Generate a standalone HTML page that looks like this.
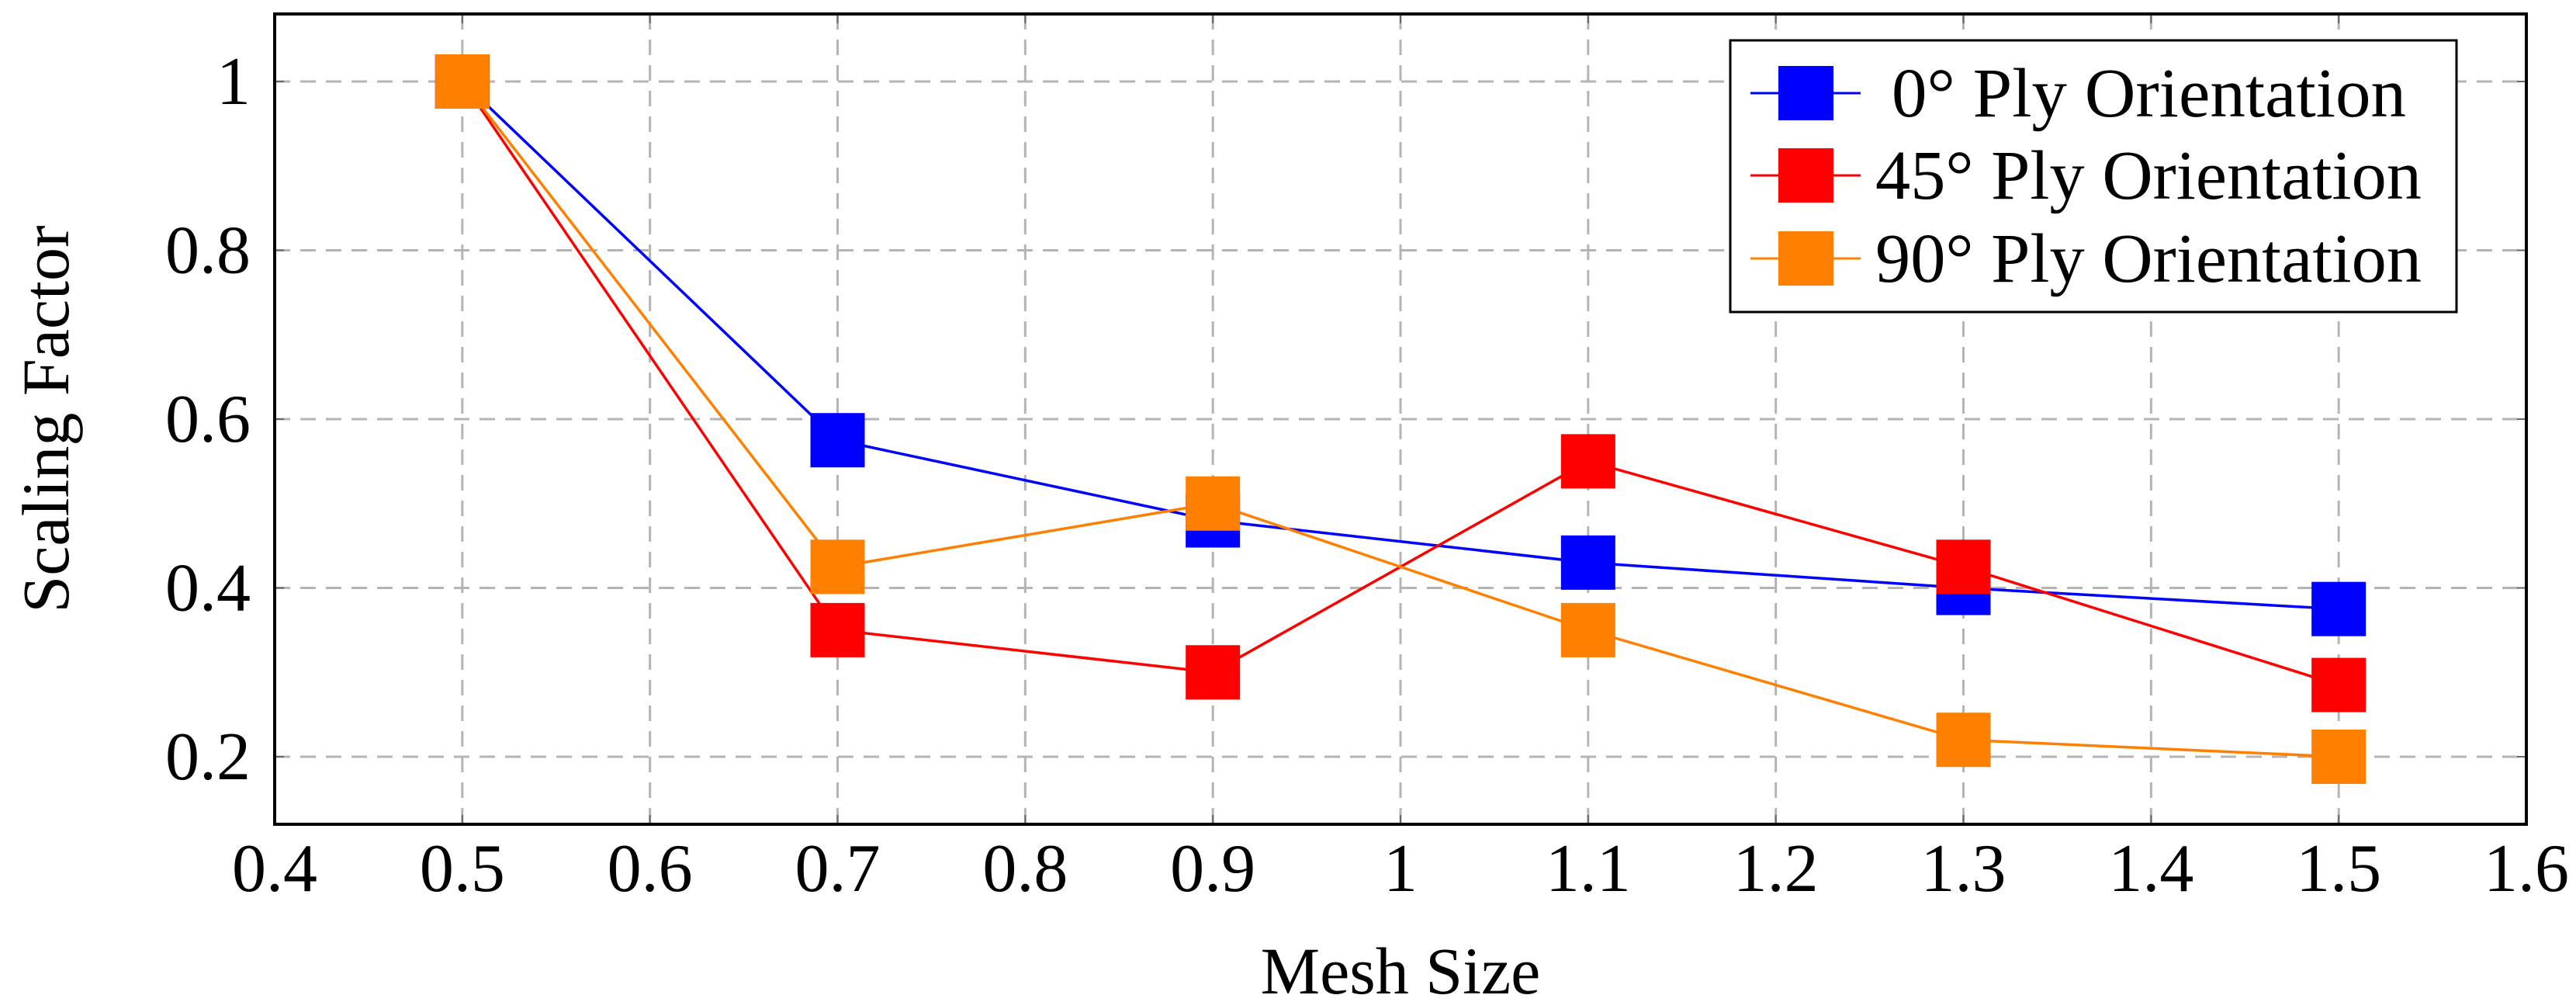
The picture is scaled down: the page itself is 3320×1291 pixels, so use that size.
<!DOCTYPE html>
<html><head><meta charset="utf-8"><style>
html,body{margin:0;padding:0;background:#fff;}
svg{display:block;}
text{font-family:"Liberation Serif",serif;fill:#000;}
</style></head><body>
<svg id="chart" width="3320" height="1291" viewBox="0 0 3320 1291" xmlns="http://www.w3.org/2000/svg">
<g id="grid"></g>
<g id="series"></g>
<rect x="354" y="18" width="2902" height="1044" fill="none" stroke="#000" stroke-width="4"/>
<g id="ticks"></g>
<text x="1805" y="1280" font-size="86" text-anchor="middle" font-family="Liberation Serif, serif">Mesh Size</text>
<text x="0" y="0" font-size="86" text-anchor="middle" font-family="Liberation Serif, serif" transform="translate(88,540) rotate(-90)">Scaling Factor</text>
<g id="legend"></g>
</svg>
<script>
const categories = [0.5, 0.7, 0.9, 1.1, 1.3, 1.5];
const series0 = [1, 0.575, 0.48, 0.43, 0.40, 0.375];
const series45 = [1, 0.35, 0.30, 0.55, 0.425, 0.285];
const series90 = [1, 0.425, 0.50, 0.35, 0.22, 0.20];
const seriesNames = ["0° Ply Orientation", "45° Ply Orientation", "90° Ply Orientation"];
const xTicks = [0.4, 0.5, 0.6, 0.7, 0.8, 0.9, 1, 1.1, 1.2, 1.3, 1.4, 1.5, 1.6];
const xTickLabels = ["0.4","0.5","0.6","0.7","0.8","0.9","1","1.1","1.2","1.3","1.4","1.5","1.6"];
const yTicks = [0.2, 0.4, 0.6, 0.8, 1];
const yTickLabels = ["0.2","0.4","0.6","0.8","1"];

const NS = "http://www.w3.org/2000/svg";
const L = 354, R = 3256, T = 18, B = 1062;
const xMin = 0.4, xMax = 1.6, yMin = 0.12, yMax = 1.08;
function xs(v){ return L + (v - xMin) / (xMax - xMin) * (R - L); }
function ys(v){ return B - (v - yMin) / (yMax - yMin) * (B - T); }
function mk(tag, attrs, parent){ const e = document.createElementNS(NS, tag); for (const k in attrs) e.setAttribute(k, attrs[k]); parent.appendChild(e); return e; }
const FF = '"Liberation Serif", serif';

const grid = document.getElementById('grid');
const ticks = document.getElementById('ticks');
xTicks.forEach((v, i) => {
  if (i > 0 && i < xTicks.length - 1) {
    const g = mk('line', {x1: xs(v), x2: xs(v), y1: T, y2: B, stroke: '#b4b4b4', 'stroke-width': 3, 'stroke-dasharray': '20 13'}, grid);
    
    
    mk('line', {x1: xs(v), x2: xs(v), y1: B, y2: B - 12, stroke: '#666', 'stroke-width': 2}, grid);
    mk('line', {x1: xs(v), x2: xs(v), y1: T, y2: T + 12, stroke: '#666', 'stroke-width': 2}, grid);
  }
  const t = mk('text', {x: xs(v), y: 1148, 'font-size': 88, 'text-anchor': 'middle', 'font-family': FF}, ticks);
  t.textContent = xTickLabels[i];
  
  
});
yTicks.forEach((v, i) => {
  const g = mk('line', {x1: L, x2: R, y1: ys(v), y2: ys(v), stroke: '#b4b4b4', 'stroke-width': 3, 'stroke-dasharray': '20 13'}, grid);
  
  
  mk('line', {x1: L, x2: L + 12, y1: ys(v), y2: ys(v), stroke: '#666', 'stroke-width': 2}, grid);
  mk('line', {x1: R, x2: R - 12, y1: ys(v), y2: ys(v), stroke: '#666', 'stroke-width': 2}, grid);
  const t = mk('text', {x: 323, y: ys(v) + 29, 'font-size': 88, 'text-anchor': 'end', 'font-family': FF}, ticks);
  t.textContent = yTickLabels[i];
  
  
});

const sg = document.getElementById('series');
const allSeries = [series0, series45, series90];
const colors = ['#0000ff', '#ff0000', '#ff8000'];
const keys = ['0deg', '45deg', '90deg'];
const M = 70;
allSeries.forEach((vals, si) => {
  const pts = vals.map((v, i) => xs(categories[i]) + ',' + ys(v)).join(' ');
  const pl = mk('polyline', {points: pts, fill: 'none', stroke: colors[si], 'stroke-width': 3.5}, sg);
  
  
});
allSeries.forEach((vals, si) => {
  vals.forEach((v, i) => {
    const r = mk('rect', {x: xs(categories[i]) - M/2, y: ys(v) - M/2, width: M, height: M, fill: colors[si]}, sg);
    
    
  });
});

const lg = document.getElementById('legend');
const box = mk('rect', {x: 2230, y: 52, width: 936, height: 350, fill: '#fff', stroke: '#000', 'stroke-width': 3}, lg);


const rowY = [120, 226, 333];
const textX = [2438, 2417, 2417];
const textLen = [663, 704, 704];
seriesNames.forEach((n, i) => {
  const g = mk('g', {}, lg);
  
  
  mk('line', {x1: 2256, x2: 2398, y1: rowY[i], y2: rowY[i], stroke: colors[i], 'stroke-width': 3}, g);
  mk('rect', {x: 2292, y: rowY[i] - 35, width: 71, height: 70, fill: colors[i]}, g);
  const t = mk('text', {x: textX[i], y: rowY[i] + 30, 'font-size': 90, 'font-family': FF, textLength: textLen[i], lengthAdjust: 'spacingAndGlyphs'}, g);
  t.textContent = n;
});
</script>
</body></html>
